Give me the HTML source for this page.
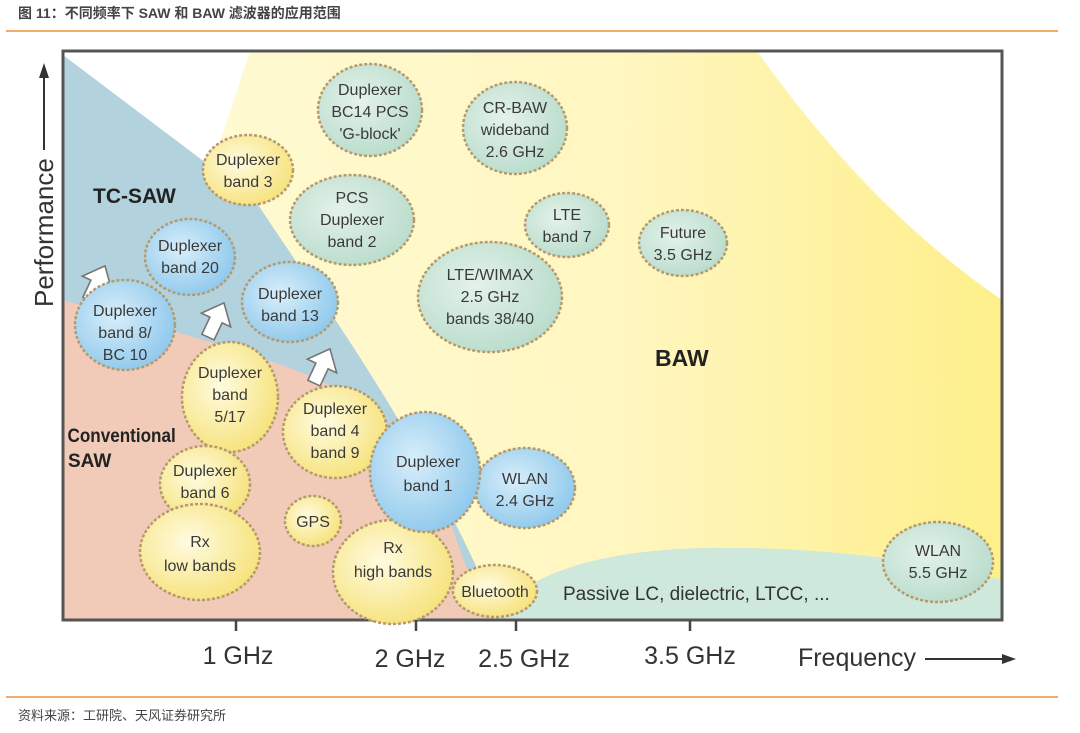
<!DOCTYPE html>
<html><head><meta charset="utf-8">
<style>
html,body{margin:0;padding:0;background:#fff;width:1080px;height:733px;overflow:hidden}
svg{display:block}
.t{font-family:"Liberation Sans","Noto Sans CJK SC",sans-serif}
.b{font-family:"Liberation Sans",sans-serif;font-size:16px;fill:#3a3a3a;text-anchor:middle}
</style></head><body>
<svg width="1080" height="733" viewBox="0 0 1080 733" xmlns="http://www.w3.org/2000/svg">
<defs>
<radialGradient id="gy" cx="40%" cy="40%" r="65%"><stop offset="0" stop-color="#fffbe0"/><stop offset="1" stop-color="#f6e27a"/></radialGradient>
<radialGradient id="gg" cx="40%" cy="40%" r="65%"><stop offset="0" stop-color="#e4f2ea"/><stop offset="1" stop-color="#b9dccb"/></radialGradient>
<radialGradient id="gb" cx="40%" cy="40%" r="65%"><stop offset="0" stop-color="#d8eefa"/><stop offset="1" stop-color="#8ec8ec"/></radialGradient>
<linearGradient id="yel" x1="0" y1="0" x2="1" y2="0"><stop offset="0" stop-color="#fffbd8"/><stop offset="0.6" stop-color="#fff6c0"/><stop offset="1" stop-color="#fdef8a"/></linearGradient>
</defs>
<text x="18" y="18" class="t" font-size="14" font-weight="bold" fill="#444">图 11：不同频率下 SAW 和 BAW 滤波器的应用范围</text>
<line x1="6" y1="31" x2="1058" y2="31" stroke="#f0903a" stroke-width="1.5"/>

<rect x="63" y="51" width="939" height="569" fill="#fff"/>
<path d="M250,51 L757,51 C820,140 900,230 1002,300 L1002,620 L63,620 Z" fill="url(#yel)"/>
<path d="M63,55 L255,200 C320,300 420,430 500,620 L63,620 Z" fill="#b2d3de"/>
<path d="M63,300 C130,320 230,345 300,372 C370,400 420,440 450,520 C465,570 480,600 500,620 L63,620 Z" fill="#f1cbb8"/>
<path d="M490,620 C520,580 580,552 700,548 C820,546 920,560 1002,580 L1002,620 Z" fill="#cfe8dc"/>
<rect x="63" y="51" width="939" height="569" fill="none" stroke="#555" stroke-width="3"/>

<g fill="#fff" stroke="#777" stroke-width="1.2">
<path d="M0,-14 L12,0 L5,0 L5,14 L-5,14 L-5,0 L-12,0 Z" transform="translate(97,283) rotate(25) scale(1.35)"/>
<path d="M0,-14 L12,0 L5,0 L5,14 L-5,14 L-5,0 L-12,0 Z" transform="translate(216,320) rotate(25) scale(1.35)"/>
<path d="M0,-14 L12,0 L5,0 L5,14 L-5,14 L-5,0 L-12,0 Z" transform="translate(322,366) rotate(25) scale(1.35)"/>
</g>

<g stroke="#b59a6c" stroke-width="2.5" stroke-dasharray="3 2">
<ellipse cx="370" cy="110" rx="52" ry="46" fill="url(#gg)"/>
<ellipse cx="515" cy="128" rx="52" ry="46" fill="url(#gg)"/>
<ellipse cx="248" cy="170" rx="45" ry="35" fill="url(#gy)"/>
<ellipse cx="352" cy="220" rx="62" ry="45" fill="url(#gg)"/>
<ellipse cx="567" cy="225" rx="42" ry="32" fill="url(#gg)"/>
<ellipse cx="683" cy="243" rx="44" ry="33" fill="url(#gg)"/>
<ellipse cx="190" cy="257" rx="45" ry="38" fill="url(#gb)"/>
<ellipse cx="290" cy="302" rx="48" ry="40" fill="url(#gb)"/>
<ellipse cx="490" cy="297" rx="72" ry="55" fill="url(#gg)"/>
<ellipse cx="125" cy="325" rx="50" ry="45" fill="url(#gb)"/>
<ellipse cx="230" cy="397" rx="48" ry="55" fill="url(#gy)"/>
<ellipse cx="335" cy="432" rx="52" ry="46" fill="url(#gy)"/>
<ellipse cx="205" cy="484" rx="45" ry="38" fill="url(#gy)"/>
<ellipse cx="200" cy="552" rx="60" ry="48" fill="url(#gy)"/>
<ellipse cx="313" cy="521" rx="28" ry="25" fill="url(#gy)"/>
<ellipse cx="393" cy="572" rx="60" ry="52" fill="url(#gy)"/>
<ellipse cx="525" cy="488" rx="50" ry="40" fill="url(#gb)"/>
<ellipse cx="425" cy="472" rx="55" ry="60" fill="url(#gb)"/>
<ellipse cx="495" cy="591" rx="42" ry="26" fill="url(#gy)"/>
<ellipse cx="938" cy="562" rx="55" ry="40" fill="url(#gg)"/>
</g>

<g class="b">
<text x="370" y="95">Duplexer</text><text x="370" y="117">BC14 PCS</text><text x="370" y="139">'G-block'</text>
<text x="515" y="113">CR-BAW</text><text x="515" y="135">wideband</text><text x="515" y="157">2.6 GHz</text>
<text x="248" y="165">Duplexer</text><text x="248" y="187">band 3</text>
<text x="352" y="203">PCS</text><text x="352" y="225">Duplexer</text><text x="352" y="247">band 2</text>
<text x="567" y="220">LTE</text><text x="567" y="242">band 7</text>
<text x="683" y="238">Future</text><text x="683" y="260">3.5 GHz</text>
<text x="190" y="251">Duplexer</text><text x="190" y="273">band 20</text>
<text x="290" y="299">Duplexer</text><text x="290" y="321">band 13</text>
<text x="490" y="280">LTE/WIMAX</text><text x="490" y="302">2.5 GHz</text><text x="490" y="324">bands 38/40</text>
<text x="125" y="316">Duplexer</text><text x="125" y="338">band 8/</text><text x="125" y="360">BC 10</text>
<text x="230" y="378">Duplexer</text><text x="230" y="400">band</text><text x="230" y="422">5/17</text>
<text x="335" y="414">Duplexer</text><text x="335" y="436">band 4</text><text x="335" y="458">band 9</text>
<text x="205" y="476">Duplexer</text><text x="205" y="498">band 6</text>
<text x="200" y="547">Rx</text><text x="200" y="571">low bands</text>
<text x="313" y="527">GPS</text>
<text x="393" y="553">Rx</text><text x="393" y="577">high bands</text>
<text x="525" y="484">WLAN</text><text x="525" y="506">2.4 GHz</text>
<text x="428" y="467">Duplexer</text><text x="428" y="491">band 1</text>
<text x="495" y="597">Bluetooth</text>
<text x="938" y="556">WLAN</text><text x="938" y="578">5.5 GHz</text>
</g>

<g font-family="Liberation Sans,sans-serif" font-weight="bold" fill="#222">
<text x="93" y="203" font-size="21">TC-SAW</text>
<text x="68" y="442" font-size="19" transform="scale(0.9,1) translate(7,0)">Conventional</text>
<text x="68" y="467" font-size="19">SAW</text>
<text x="655" y="366" font-size="23">BAW</text>
</g>
<text x="563" y="600" font-family="Liberation Sans,sans-serif" font-size="19" fill="#333">Passive LC, dielectric, LTCC, ...</text>

<g stroke="#444" stroke-width="2.5">
<line x1="236" y1="620" x2="236" y2="631"/>
<line x1="416" y1="620" x2="416" y2="631"/>
<line x1="516" y1="620" x2="516" y2="631"/>
<line x1="690" y1="620" x2="690" y2="631"/>
</g>
<g font-family="Liberation Sans,sans-serif" font-size="25" fill="#333" text-anchor="middle">
<text x="238" y="664">1 GHz</text>
<text x="410" y="667">2 GHz</text>
<text x="524" y="667">2.5 GHz</text>
<text x="690" y="664">3.5 GHz</text>
<text x="857" y="666">Frequency</text>
</g>
<line x1="925" y1="659" x2="1005" y2="659" stroke="#333" stroke-width="2"/>
<path d="M1016,659 L1002,654 L1002,664 Z" fill="#333"/>
<text transform="translate(53,307) rotate(-90)" font-family="Liberation Sans,sans-serif" font-size="26" fill="#333">Performance</text>
<line x1="44" y1="150" x2="44" y2="76" stroke="#333" stroke-width="2"/>
<path d="M44,63 L39,78 L49,78 Z" fill="#333"/>

<line x1="6" y1="697" x2="1058" y2="697" stroke="#f0903a" stroke-width="1.5"/>
<text x="18" y="720" class="t" font-size="13" fill="#444">资料来源：工研院、天风证券研究所</text>
</svg>
</body></html>
